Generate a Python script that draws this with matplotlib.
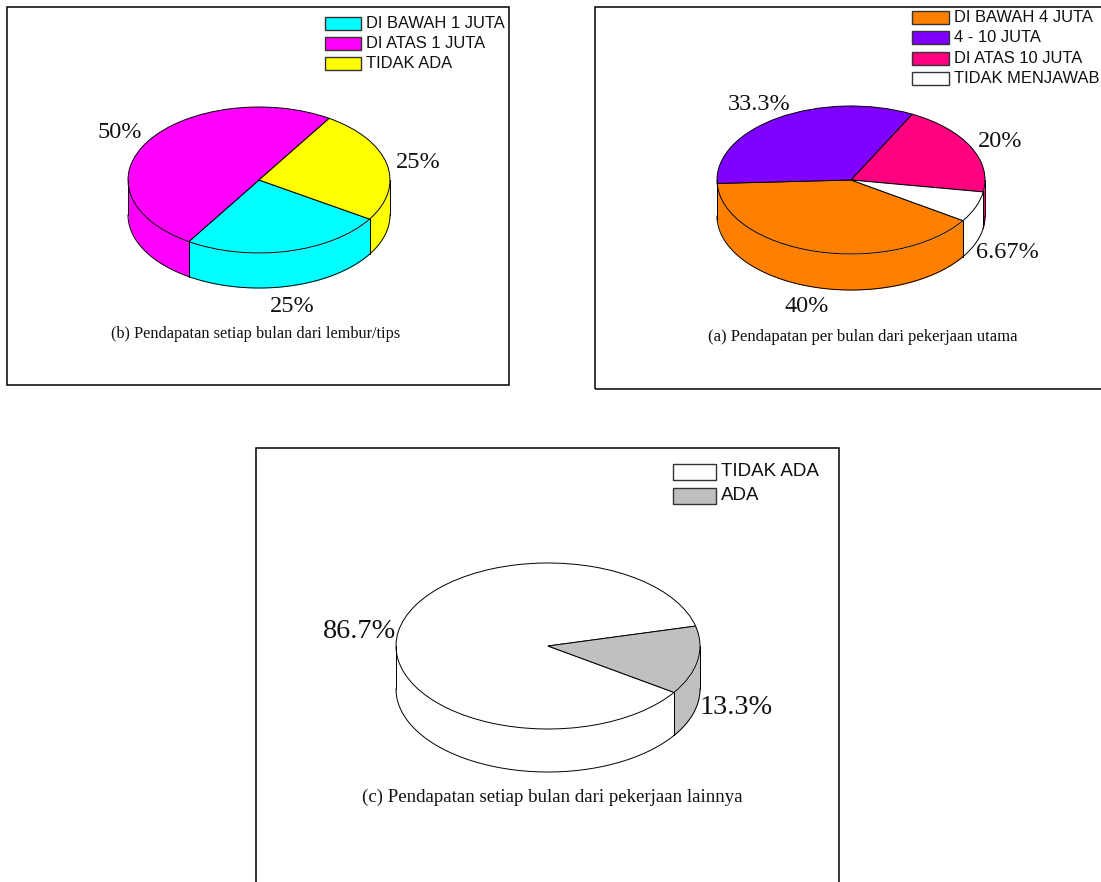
import numpy as np
import matplotlib
matplotlib.use('Agg')
import matplotlib.pyplot as plt
from matplotlib.patches import Rectangle

W, H = 1101, 882

# slices are listed clockwise, as the legends list them
labels_b = ['DI BAWAH 1 JUTA', 'DI ATAS 1 JUTA', 'TIDAK ADA']
values_b = [25, 50, 25]
texts_b = ['25%', '50%', '25%']
colors_b = ['#00ffff', '#ff00ff', '#ffff00']
title_b = '(b) Pendapatan setiap bulan dari lembur/tips'

labels_a = ['DI BAWAH 4 JUTA', '4 - 10 JUTA', 'DI ATAS 10 JUTA', 'TIDAK MENJAWAB']
values_a = [40, 33.3, 20, 6.67]
texts_a = ['40%', '33.3%', '20%', '6.67%']
colors_a = ['#ff8000', '#8000ff', '#ff0080', '#ffffff']
title_a = '(a) Pendapatan per bulan dari pekerjaan utama'

labels_c = ['TIDAK ADA', 'ADA']
values_c = [86.7, 13.3]
texts_c = ['86.7%', '13.3%']
colors_c = ['#ffffff', '#c0c0c0']
title_c = '(c) Pendapatan setiap bulan dari pekerjaan lainnya'

SERIF = 'Liberation Serif'
SANS = 'Liberation Sans'

fig = plt.figure(figsize=(W / 100, H / 100), dpi=100)


def px(x, y):
    return x / W, 1 - y / H


def frame(x0, y0, x1, y1):
    fig.add_artist(Rectangle(px(x0, y1), (x1 - x0) / W, (y1 - y0) / H, fill=False,
                             ec='black', lw=1.1, transform=fig.transFigure))


def pie3d(values, colors, start, cx, cy, rx, ry, depth):
    pad = 0.02
    d = depth / ry
    left, bottom = px(cx - rx * (1 + pad), cy + ry * (1 + pad) + depth)
    ax = fig.add_axes([left, bottom, 2 * rx * (1 + pad) / W, (2 * ry * (1 + pad) + depth) / H])

    # side wall first, only the part that faces the front
    total = sum(values)
    a1 = start + 720
    for v, c in zip(values, colors):
        a0 = a1
        a1 = a0 - 360 * v / total
        for f0, f1 in [(180, 360), (540, 720)]:
            s0, s1 = max(a1, f0), min(a0, f1)
            if s1 <= s0:
                continue
            t = np.radians(np.linspace(s0, s1, 80))
            xs = np.cos(t)
            ys = np.sin(t)
            ax.fill_between(xs, ys, ys - d, color=c, lw=0)
            ax.plot(xs, ys - d, color='black', lw=0.7)
            ax.plot([xs[0], xs[0]], [ys[0], ys[0] - d], color='black', lw=0.7)
            ax.plot([xs[-1], xs[-1]], [ys[-1], ys[-1] - d], color='black', lw=0.7)

    ax.pie(values, colors=colors, startangle=start, counterclock=False, radius=1,
           wedgeprops={'ec': 'black', 'lw': 0.7})
    ax.set_aspect('auto')
    ax.set_xlim(-1 - pad, 1 + pad)
    ax.set_ylim(-1 - pad - d, 1 + pad)
    ax.patch.set_alpha(0)
    return ax


def legend(labels, colors, x, y, hw, hh, row, size):
    for i, (lab, c) in enumerate(zip(labels, colors)):
        yy = y + i * row
        fig.add_artist(Rectangle(px(x, yy + hh / 2), hw / W, hh / H, fc=c, ec='#333333', lw=1,
                                 transform=fig.transFigure))
        tx, ty = px(x + hw + 5, yy)
        fig.text(tx, ty, lab, family=SANS, fontsize=size, va='center', ha='left', color='#111111')


def text(x, y, s, size, family=SERIF):
    tx, ty = px(x, y + 2)
    fig.text(tx, ty, s, family=family, fontsize=size, ha='center', va='center', color='#111111')


frame(7, 7, 509, 385)
frame(595, 7, W + 10, 389)
frame(256, 448, 839, H + 10)

# panel b
pie3d(values_b, colors_b, -32.4, 259, 180, 131, 73, 35)
legend(labels_b, colors_b, 325, 23, 36, 13, 20, 11.85)
text(120, 131, texts_b[1], 17.5)
text(418, 161, texts_b[2], 17.5)
text(292, 304, texts_b[0], 17.5)
text(256, 332, title_b, 11.7)

# panel a
pie3d(values_a, colors_a, -33.3, 851, 180, 134, 74, 36)
legend(labels_a, colors_a, 912, 17.5, 37, 13, 20.4, 11.85)
text(759, 103, texts_a[1], 17.5)
text(1000, 139, texts_a[2], 17.5)
text(1007, 250, texts_a[3], 17.5)
text(807, 305, texts_a[0], 17.5)
text(863, 335, title_a, 12)

# panel c
pie3d(values_c, colors_c, -34, 548, 646, 152, 83, 43)
legend(labels_c, colors_c, 673, 472, 43, 16, 24, 13.5)
text(359, 630, texts_c[0], 20.3)
text(736, 705, texts_c[1], 20.3)
text(552, 795, title_c, 13.6)

fig.savefig('out.png', dpi=100)
